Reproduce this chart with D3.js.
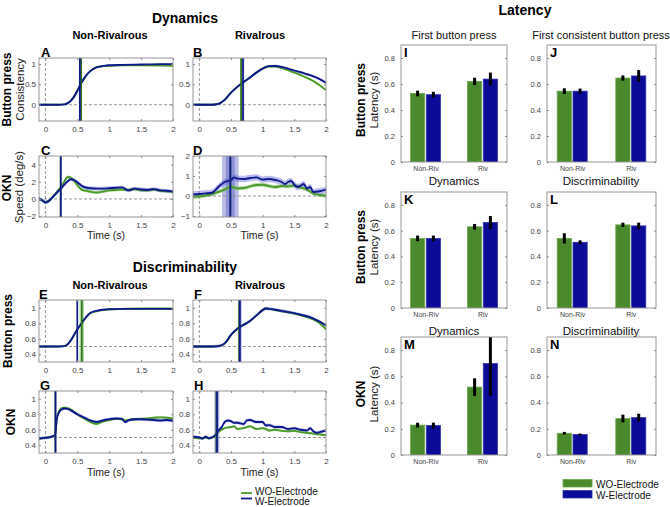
<!DOCTYPE html>
<html><head><meta charset="utf-8">
<script src="https://cdn.jsdelivr.net/npm/d3@7"></script>
<style>body{margin:0;background:#fff}svg{display:block}text{font-family:"Liberation Sans",Arial,Helvetica,sans-serif}</style>
</head><body><svg id="c" width="670" height="507"></svg>
<script>
// ---------------- DATA ----------------
const seriesNames = ["WO-Electrode", "W-Electrode"];
const timeDomain = [-0.1, 2];
const timeTicks = [0, 0.5, 1, 1.5, 2];

// A: Dynamics / Non-rivalrous / button press consistency
const timeA = [-0.1,0,0.1,0.2,0.3,0.35,0.4,0.45,0.5,0.55,0.6,0.65,0.7,0.75,0.8,0.9,1.0,1.2,1.5,1.8,2.0];
const woA   = [0,0,0,0,0.01,0.04,0.1,0.2,0.34,0.5,0.63,0.74,0.82,0.88,0.92,0.95,0.96,0.97,0.97,0.965,0.96];
const wA    = [0,0,0,0,0.01,0.04,0.1,0.2,0.34,0.5,0.63,0.74,0.82,0.88,0.92,0.95,0.97,0.98,0.99,1.0,1.0];
// B: Dynamics / Rivalrous / button press
const timeB = [-0.1,0,0.1,0.2,0.3,0.35,0.4,0.5,0.6,0.7,0.8,0.9,1.0,1.1,1.2,1.3,1.4,1.5,1.6,1.7,1.8,1.9,2.0];
const woB   = [0,0,0,0,0.02,0.06,0.12,0.3,0.44,0.56,0.67,0.79,0.89,0.94,0.94,0.9,0.85,0.79,0.73,0.66,0.58,0.48,0.36];
const wB    = [0,0,0,0,0.02,0.06,0.12,0.3,0.44,0.56,0.67,0.79,0.89,0.95,0.955,0.93,0.89,0.84,0.8,0.75,0.7,0.63,0.54];
// C: Dynamics / Non-rivalrous / OKN speed
const timeC = [-0.1,-0.05,0,0.05,0.1,0.15,0.2,0.25,0.3,0.35,0.4,0.45,0.5,0.55,0.6,0.65,0.7,0.8,0.9,1.0,1.1,1.2,1.3,1.4,1.5,1.6,1.7,1.8,1.9,2.0];
const woC   = [0,-0.15,-0.4,-0.25,0.1,0.55,1.0,1.45,2.1,2.55,2.45,2.1,1.6,1.2,1.0,0.95,0.85,0.75,0.85,1.0,1.05,1.1,1.05,1.15,1.0,1.0,1.1,0.95,0.9,0.85];
const wC    = [0,-0.15,-0.4,-0.25,0.1,0.5,0.9,1.25,1.7,2.05,2.3,2.2,1.95,1.65,1.4,1.3,1.25,1.2,1.2,1.25,1.3,1.35,1.0,1.2,1.1,1.05,1.15,1.0,0.95,0.85];
// D: Dynamics / Rivalrous / OKN speed
const timeD = [-0.1,0,0.1,0.2,0.3,0.4,0.5,0.55,0.6,0.7,0.8,0.9,1.0,1.1,1.2,1.3,1.35,1.4,1.45,1.5,1.55,1.6,1.65,1.7,1.75,1.8,1.9,2.0];
const woD   = [-0.05,-0.02,0.02,0.1,0.2,0.32,0.48,0.42,0.38,0.4,0.48,0.55,0.56,0.5,0.45,0.5,0.49,0.48,0.5,0.52,0.48,0.42,0.38,0.32,0.22,0.13,0.05,0.02];
const wD    = [0.08,0.1,0.13,0.16,0.45,0.7,0.8,0.93,0.87,0.85,0.9,0.93,0.82,0.85,0.8,0.7,0.6,0.7,0.75,0.56,0.45,0.52,0.6,0.37,0.45,0.2,0.24,0.32];
// E: Discriminability / Non-rivalrous / button press
const timeE = [-0.1,0,0.1,0.2,0.3,0.35,0.4,0.45,0.5,0.55,0.6,0.65,0.7,0.8,0.9,1.0,1.2,1.5,1.8,2.0];
const woE   = [0.5,0.5,0.5,0.5,0.505,0.53,0.58,0.65,0.72,0.78,0.84,0.89,0.93,0.955,0.97,0.98,0.985,0.99,0.99,0.99];
const wE    = [0.5,0.5,0.5,0.5,0.505,0.53,0.58,0.65,0.72,0.78,0.84,0.89,0.93,0.96,0.975,0.98,0.985,0.985,0.985,0.985];
// F: Discriminability / Rivalrous / button press
const timeF = [-0.1,0,0.1,0.2,0.3,0.4,0.5,0.6,0.7,0.8,0.9,1.0,1.05,1.1,1.2,1.3,1.4,1.5,1.6,1.7,1.8,1.9,2.0];
const woF   = [0.5,0.5,0.5,0.5,0.505,0.54,0.65,0.73,0.78,0.83,0.9,0.97,0.99,0.985,0.97,0.955,0.94,0.925,0.905,0.88,0.85,0.8,0.72];
const wF    = [0.5,0.5,0.5,0.5,0.505,0.54,0.65,0.73,0.78,0.83,0.9,0.97,0.99,0.985,0.975,0.96,0.945,0.93,0.91,0.89,0.86,0.82,0.77];
// G: Discriminability / Non-rivalrous / OKN
const timeG = [-0.1,0,0.1,0.15,0.18,0.2,0.25,0.3,0.35,0.4,0.5,0.6,0.7,0.8,0.9,1.0,1.1,1.2,1.25,1.3,1.4,1.5,1.6,1.7,1.8,1.9,2.0];
const woG   = [0.488,0.495,0.51,0.53,0.75,0.81,0.875,0.885,0.88,0.86,0.8,0.75,0.7,0.675,0.705,0.725,0.74,0.735,0.72,0.725,0.735,0.74,0.745,0.755,0.76,0.755,0.745];
const wG    = [0.488,0.495,0.51,0.53,0.74,0.8,0.86,0.875,0.87,0.85,0.8,0.76,0.72,0.7,0.72,0.735,0.745,0.74,0.7,0.72,0.735,0.735,0.73,0.725,0.72,0.725,0.715];
// H: Discriminability / Rivalrous / OKN
const timeH = [-0.1,0,0.05,0.1,0.15,0.2,0.25,0.3,0.35,0.4,0.45,0.5,0.55,0.6,0.7,0.75,0.8,0.9,1.0,1.05,1.1,1.2,1.3,1.4,1.5,1.6,1.7,1.75,1.8,1.85,1.9,2.0];
const woH   = [0.5,0.49,0.49,0.5,0.49,0.5,0.52,0.57,0.6,0.62,0.63,0.635,0.645,0.61,0.62,0.635,0.645,0.61,0.62,0.61,0.59,0.6,0.585,0.58,0.585,0.57,0.56,0.555,0.55,0.545,0.54,0.53];
const wH    = [0.51,0.5,0.488,0.51,0.49,0.5,0.53,0.59,0.63,0.7,0.72,0.71,0.69,0.69,0.675,0.72,0.725,0.7,0.7,0.655,0.66,0.635,0.635,0.61,0.62,0.6,0.59,0.62,0.58,0.56,0.57,0.59];

// standard errors of the curves [WO, W]
const semA = [0.012, 0.014], semB = [0.022, 0.028], semC = [0.18, 0.22], semD = [0.1, 0.16];
const semE = [0.008, 0.01], semF = [0.015, 0.02], semG = [0.015, 0.02], semH = [0.015, 0.02];

// latency markers [WO, W] and their half-widths
const latA = [0.56, 0.54], latHwA = [0.012, 0.016];
const latB = [0.66, 0.69], latHwB = [0.015, 0.02];
const latC = [0.24, 0.24], latHwC = [0, 0.01];
const latD = [0.49, 0.49], latHwD = [0.07, 0.13];
const latE = [0.57, 0.5],  latHwE = [0.035, 0.008];
const latF = [0.63, 0.64], latHwF = [0.02, 0.03];
const latG = [0.155, 0.16], latHwG = [0.005, 0.008];
const latH = [0.27, 0.28], latHwH = [0.03, 0.035];

// bar charts
const barCategories = ["Non-Riv", "Riv"];
const latencyTicks = [0, 0.2, 0.4, 0.6, 0.8];
const barI_wo = [0.527, 0.62],  barI_w = [0.518, 0.638], errI_wo = [0.022, 0.028], errI_w = [0.022, 0.05];
const barJ_wo = [0.545, 0.646], barJ_w = [0.545, 0.662], errJ_wo = [0.022, 0.02],  errJ_w = [0.02, 0.045];
const barK_wo = [0.54, 0.63],   barK_w = [0.54, 0.664],  errK_wo = [0.022, 0.022], errK_w = [0.022, 0.05];
const barL_wo = [0.54, 0.645],  barL_w = [0.51, 0.637],  errL_wo = [0.04, 0.017],  errL_w = [0.015, 0.025];
const barM_wo = [0.228, 0.518], barM_w = [0.225, 0.698], errM_wo = [0.018, 0.067], errM_w = [0.022, 0.245];
const barN_wo = [0.166, 0.278], barN_w = [0.156, 0.285], errN_wo = [0.01, 0.03],   errN_w = [0.008, 0.03];

// ---------------- STYLE ----------------
const svg = d3.select("#c");
const GREEN_LINE = "#4c9a2d", BLUE_LINE = "#0e1a8c";
const GREEN_BAND = "rgba(115,195,85,0.5)", BLUE_BAND = "rgba(95,95,215,0.42)";
const VL_GREEN = "#2f6d1f", VL_BLUE = "#0e1a8c";
const VB_GREEN = "rgba(120,200,90,0.55)", VB_BLUE = "rgba(70,80,190,0.38)";
const GREEN_BAR = "#4b8a2c", BLUE_BAR = "#0b0b97";
const AX = "#8c8c8c", TXT = "#444";
let clipN = 0;
function clip(x0, y0, x1, y1) {
  const id = "cl" + (clipN++);
  svg.append("clipPath").attr("id", id).append("rect")
    .attr("x", x0).attr("y", y0).attr("width", x1 - x0).attr("height", y1 - y0);
  return "url(#" + id + ")";
}
function txt(x, y, s, size, opts = {}) {
  const t = svg.append("text").attr("x", x).attr("y", y).text(s)
    .attr("font-size", size).attr("fill", opts.fill || "#000")
    .attr("text-anchor", opts.anchor || "middle")
    .attr("font-weight", opts.bold ? "bold" : "normal");
  if (opts.rot) t.attr("transform", `rotate(-90,${x},${y})`);
  return t;
}
function styleAxis(g, size) {
  g.select(".domain").remove();
  g.selectAll(".tick line").attr("stroke", AX);
  g.selectAll(".tick text").attr("fill", TXT).attr("font-size", size)
    .attr("font-family", '"Liberation Sans",Arial,sans-serif');
}
const fmt = d3.format("~g");

// ---------------- LINE PANELS ----------------
function linePanel(p) {
  const [x0, y0, x1, y1] = p.box;
  const x = d3.scaleLinear().domain(timeDomain).range([x0, x1]);
  const y = d3.scaleLinear().domain(p.ydom).range([y1, y0]);
  const inner = svg.append("g").attr("clip-path", clip(x0, y0, x1, y1));
  p.lat.forEach((t, i) => {
    const hw = p.latHw[i];
    if (hw > 0) inner.append("rect").attr("x", x(t - hw)).attr("width", x(t + hw) - x(t - hw))
      .attr("y", y0).attr("height", y1 - y0)
      .attr("fill", (p.bandBlue || i === 1) ? VB_BLUE : VB_GREEN);
  });
  inner.append("line").attr("x1", x(0)).attr("x2", x(0)).attr("y1", y0).attr("y2", y1)
    .attr("stroke", "#8a8a8a").attr("stroke-dasharray", "3,2").attr("stroke-width", 0.9);
  inner.append("line").attr("x1", x0).attr("x2", x1).attr("y1", y(p.base)).attr("y2", y(p.base))
    .attr("stroke", "#8a8a8a").attr("stroke-dasharray", "3,2").attr("stroke-width", 0.9);
  const series = [
    { v: p.wo, sem: p.sem[0], c: GREEN_LINE, band: GREEN_BAND },
    { v: p.w,  sem: p.sem[1], c: BLUE_LINE,  band: BLUE_BAND }
  ];
  series.forEach(s => {
    const area = d3.area().x((d, i) => x(p.t[i])).y0(d => y(d - s.sem)).y1(d => y(d + s.sem))
      .curve(d3.curveMonotoneX);
    inner.append("path").datum(s.v).attr("d", area).attr("fill", s.band);
  });
  series.forEach(s => {
    const line = d3.line().x((d, i) => x(p.t[i])).y(d => y(d)).curve(d3.curveMonotoneX);
    inner.append("path").datum(s.v).attr("d", line).attr("fill", "none")
      .attr("stroke", s.c).attr("stroke-width", 1.9);
  });
  p.lat.forEach((t, i) => {
    inner.append("line").attr("x1", x(t)).attr("x2", x(t)).attr("y1", y0).attr("y2", y1)
      .attr("stroke", i === 0 ? VL_GREEN : VL_BLUE).attr("stroke-width", 1.7);
  });
  svg.append("rect").attr("x", x0).attr("y", y0).attr("width", x1 - x0).attr("height", y1 - y0)
    .attr("fill", "none").attr("stroke", AX).attr("stroke-width", 0.9);
  svg.append("g").attr("transform", `translate(0,${y1})`)
    .call(d3.axisBottom(x).tickValues(timeTicks).tickSizeInner(-2).tickSizeOuter(0).tickPadding(5).tickFormat(fmt))
    .call(g => styleAxis(g, 8));
  svg.append("g").attr("transform", `translate(0,${y0})`)
    .call(d3.axisTop(x).tickValues(timeTicks).tickSizeInner(-2).tickSizeOuter(0).tickFormat(""))
    .call(g => styleAxis(g, 8));
  svg.append("g").attr("transform", `translate(${x0},0)`)
    .call(d3.axisLeft(y).tickValues(p.yticks).tickSizeInner(-2).tickSizeOuter(0).tickPadding(3).tickFormat(fmt))
    .call(g => styleAxis(g, 8));
  svg.append("g").attr("transform", `translate(${x1},0)`)
    .call(d3.axisRight(y).tickValues(p.yticks).tickSizeInner(-2).tickSizeOuter(0).tickFormat(""))
    .call(g => styleAxis(g, 8));
  txt(p.letterX, y0 - 1, p.letter, 13, { bold: true, anchor: "start" });
  if (p.timeLabel) txt((x0 + x1) / 2, p.timeLabel, "Time (s)", 10.5, { fill: "#222" });
}

const colL = [39, 173], colR = [193, 326];
const lineSpecs = [
  { letter: "A", box: [colL[0], 58, colL[1], 121], ydom: [-0.4, 1.15], yticks: [0, 0.5, 1], base: 0, t: timeA, wo: woA, w: wA, sem: semA, lat: latA, latHw: latHwA, letterX: 41 },
  { letter: "B", box: [colR[0], 58, colR[1], 121], ydom: [-0.4, 1.15], yticks: [0, 0.5, 1], base: 0, t: timeB, wo: woB, w: wB, sem: semB, lat: latB, latHw: latHwB, letterX: 193 },
  { letter: "C", box: [colL[0], 156, colL[1], 217], ydom: [-2.1, 5], yticks: [-2, 0, 2, 4], base: 0, t: timeC, wo: woC, w: wC, sem: semC, lat: latC, latHw: latHwC, letterX: 41, timeLabel: 239 },
  { letter: "D", box: [colR[0], 156, colR[1], 217], ydom: [-1.05, 2], yticks: [-1, 0, 1, 2], base: 0, t: timeD, wo: woD, w: wD, sem: semD, lat: latD, latHw: latHwD, bandBlue: true, letterX: 193, timeLabel: 239 },
  { letter: "E", box: [colL[0], 300, colL[1], 362], ydom: [0.3, 1.1], yticks: [0.4, 0.6, 0.8, 1], base: 0.5, t: timeE, wo: woE, w: wE, sem: semE, lat: latE, latHw: latHwE, letterX: 39 },
  { letter: "F", box: [colR[0], 300, colR[1], 362], ydom: [0.3, 1.1], yticks: [0.4, 0.6, 0.8, 1], base: 0.5, t: timeF, wo: woF, w: wF, sem: semF, lat: latF, latHw: latHwF, bandBlue: true, letterX: 194 },
  { letter: "G", box: [colL[0], 391, colL[1], 453], ydom: [0.3, 1.1], yticks: [0.4, 0.6, 0.8, 1], base: 0.5, t: timeG, wo: woG, w: wG, sem: semG, lat: latG, latHw: latHwG, letterX: 40, timeLabel: 476 },
  { letter: "H", box: [colR[0], 391, colR[1], 453], ydom: [0.3, 1.1], yticks: [0.4, 0.6, 0.8, 1], base: 0.5, t: timeH, wo: woH, w: wH, sem: semH, lat: latH, latHw: latHwH, bandBlue: true, letterX: 194, timeLabel: 476 }
];
lineSpecs.forEach(linePanel);

// ---------------- BAR PANELS ----------------
function barPanel(p) {
  const [x0, y0, x1, y1] = p.box;
  const x = d3.scalePoint().domain(barCategories).range([x0, x1]).padding(0.43);
  const xs = d3.scaleBand().domain(seriesNames).range([-15, 15]).paddingInner(0.1);
  const y = d3.scaleLinear().domain([0, 0.9]).range([y1, y0]);
  const inner = svg.append("g").attr("clip-path", clip(x0, y0, x1, y1));
  const vals = [p.wo, p.w], errs = [p.ewo, p.ew];
  const fills = [GREEN_BAR, BLUE_BAR], strokes = ["#6aa84c", "#3535b0"];
  barCategories.forEach((cat, i) => {
    seriesNames.forEach((s, k) => {
      const v = vals[k][i];
      inner.append("rect").attr("x", x(cat) + xs(s)).attr("width", xs.bandwidth())
        .attr("y", y(v)).attr("height", y(0) - y(v))
        .attr("fill", fills[k]).attr("stroke", strokes[k]).attr("stroke-width", 0.8);
    });
  });
  barCategories.forEach((cat, i) => {
    seriesNames.forEach((s, k) => {
      const v = vals[k][i], e = errs[k][i];
      const cx = x(cat) + xs(s) + xs.bandwidth() / 2;
      inner.append("line").attr("x1", cx).attr("x2", cx).attr("y1", y(v - e)).attr("y2", y(v + e))
        .attr("stroke", "#000").attr("stroke-width", 3);
    });
  });
  svg.append("rect").attr("x", x0).attr("y", y0).attr("width", x1 - x0).attr("height", y1 - y0)
    .attr("fill", "none").attr("stroke", AX).attr("stroke-width", 0.9);
  svg.append("g").attr("transform", `translate(0,${y1})`)
    .call(d3.axisBottom(x).tickSizeInner(-2).tickSizeOuter(0).tickPadding(4))
    .call(g => styleAxis(g, 7));
  svg.append("g").attr("transform", `translate(${x0},0)`)
    .call(d3.axisLeft(y).tickValues(latencyTicks).tickSizeInner(-2).tickSizeOuter(0).tickPadding(6).tickFormat(fmt))
    .call(g => styleAxis(g, 7.5));
  svg.append("g").attr("transform", `translate(${x1},0)`)
    .call(d3.axisRight(y).tickValues(latencyTicks).tickSizeInner(-2).tickSizeOuter(0).tickFormat(""))
    .call(g => styleAxis(g, 7.5));
  txt(x0 + 3, y0 + 12, p.letter, 13, { bold: true, anchor: "start" });
}
const bcolL = [401, 507], bcolR = [547, 656];
const barSpecs = [
  { letter: "I", box: [bcolL[0], 45, bcolL[1], 162], wo: barI_wo, w: barI_w, ewo: errI_wo, ew: errI_w },
  { letter: "J", box: [bcolR[0], 45, bcolR[1], 162], wo: barJ_wo, w: barJ_w, ewo: errJ_wo, ew: errJ_w },
  { letter: "K", box: [bcolL[0], 192, bcolL[1], 308], wo: barK_wo, w: barK_w, ewo: errK_wo, ew: errK_w },
  { letter: "L", box: [bcolR[0], 192, bcolR[1], 308], wo: barL_wo, w: barL_w, ewo: errL_wo, ew: errL_w },
  { letter: "M", box: [bcolL[0], 337, bcolL[1], 455], wo: barM_wo, w: barM_w, ewo: errM_wo, ew: errM_w },
  { letter: "N", box: [bcolR[0], 337, bcolR[1], 455], wo: barN_wo, w: barN_w, ewo: errN_wo, ew: errN_w }
];
barSpecs.forEach(barPanel);

// ---------------- TEXT ----------------
txt(185, 23, "Dynamics", 14, { bold: true });
txt(525, 15, "Latency", 14, { bold: true });
txt(185, 272, "Discriminability", 14, { bold: true });
txt(110, 39, "Non-Rivalrous", 11, { bold: true });
txt(260, 39, "Rivalrous", 11, { bold: true });
txt(110, 289, "Non-Rivalrous", 11, { bold: true });
txt(260, 289, "Rivalrous", 11, { bold: true });

txt(11, 89.5, "Button press", 12, { bold: true, rot: true });
txt(23.5, 89.5, "Consistency", 11.5, { rot: true, fill: "#222" });
txt(10.5, 188, "OKN", 12, { bold: true, rot: true });
txt(23, 187, "Speed (deg/s)", 11.5, { rot: true, fill: "#222" });
txt(12, 331, "Button press", 12, { bold: true, rot: true });
txt(14.5, 422, "OKN", 12, { bold: true, rot: true });

txt(454, 39, "First button press", 11, { fill: "#111" });
txt(601, 39, "First consistent button press", 11, { fill: "#111" });
txt(454, 185, "Dynamics", 11.5, { fill: "#111" });
txt(601, 185, "Discriminability", 11.5, { fill: "#111" });
txt(454, 335, "Dynamics", 11.5, { fill: "#111" });
txt(601, 335, "Discriminability", 11.5, { fill: "#111" });
txt(365, 100, "Button press", 12, { bold: true, rot: true });
txt(377.5, 100, "Latency (s)", 11.5, { rot: true, fill: "#222" });
txt(365, 247, "Button press", 12, { bold: true, rot: true });
txt(377.5, 247, "Latency (s)", 11.5, { rot: true, fill: "#222" });
txt(365, 394, "OKN", 12, { bold: true, rot: true });
txt(377.5, 394, "Latency (s)", 11.5, { rot: true, fill: "#222" });

// legends
const lg1 = svg.append("g");
[GREEN_LINE, BLUE_LINE].forEach((c, i) => {
  lg1.append("line").attr("x1", 241).attr("x2", 252).attr("y1", 493 + i * 5.5).attr("y2", 493 + i * 5.5)
    .attr("stroke", c).attr("stroke-width", 1.8);
  txt(255, 494.5 + i * 10.5, seriesNames[i], 10, { anchor: "start", fill: "#111" });
});
[GREEN_BAR, BLUE_BAR].forEach((c, i) => {
  svg.append("rect").attr("x", 563).attr("y", 479.5 + i * 11).attr("width", 29).attr("height", 7.5)
    .attr("fill", c).attr("stroke", i ? "#3535b0" : "#6aa84c").attr("stroke-width", 0.8);
  txt(596, 487.5 + i * 11, seriesNames[i], 10, { anchor: "start", fill: "#111" });
});
</script></body></html>
